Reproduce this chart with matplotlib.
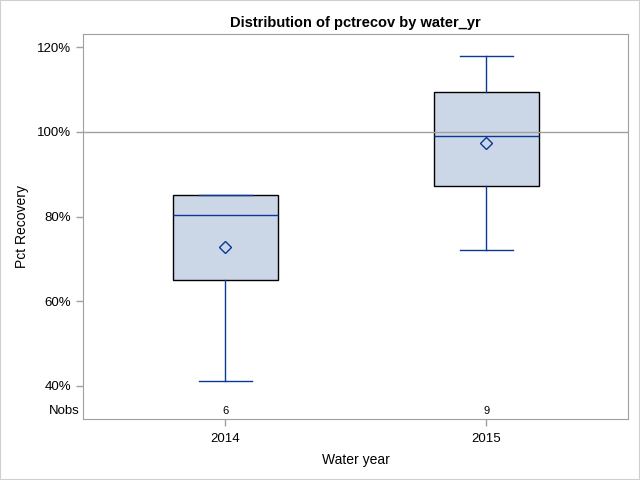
# -*- coding:utf-8 -*-
import matplotlib
matplotlib.use("Agg")
import matplotlib.pyplot as plt
from matplotlib.ticker import PercentFormatter
from matplotlib.patches import Rectangle

# box statistics (percent)
years = ['2014', '2015']
whislo = [41.1, 72.2]
q1 = [65.0, 87.2]
med = [80.3, 98.9]
q3 = [85.0, 109.4]
whishi = [85.2, 117.8]
means = [72.7, 97.4]
nobs = [6, 9]
yticks = [40, 60, 80, 100, 120]

plt.rcParams['font.family'] = ['Liberation Sans', 'DejaVu Sans']

blue = '#0A3A96'
fill = '#CBD6E6'
gray = '#A0A0A0'

fig = plt.figure(figsize=(6.4, 4.8), dpi=100)
ax = fig.add_axes([83.3/640, 61/480, 545/640, 385/480])

stats = []
for i in range(len(years)):
    stats.append({'label': years[i], 'whislo': whislo[i], 'q1': q1[i], 'med': med[i],
                  'q3': q3[i], 'whishi': whishi[i], 'mean': means[i], 'fliers': []})

ax.bxp(stats, positions=range(len(years)), widths=0.402, capwidths=0.205,
       showmeans=True, patch_artist=True, manage_ticks=False,
       boxprops=dict(facecolor=fill, edgecolor='black', linewidth=1.0),
       medianprops=dict(color=blue, linewidth=1.0),
       whiskerprops=dict(color=blue, linewidth=1.0),
       capprops=dict(color=blue, linewidth=1.0),
       meanprops=dict(marker='D', markerfacecolor='none', markeredgecolor=blue,
                      markersize=6.5, markeredgewidth=1.0))

ax.axhline(100, color=gray, linewidth=1, zorder=5)

ax.set_xlim(-0.544, 1.544)
ax.set_ylim(32.2, 123.1)
ax.set_xticks(range(len(years)))
ax.set_xticklabels(years)
ax.set_yticks(yticks)
ax.yaxis.set_major_formatter(PercentFormatter(xmax=100, decimals=0))

for i in range(len(years)):
    ax.text(i, 34.0, str(nobs[i]), ha='center', va='center', fontsize=8, color='black')
ax.text(-0.007, 34.2, 'Nobs', transform=ax.get_yaxis_transform(), ha='right',
        va='center', fontsize=9.5, color='black')

for s in ax.spines.values():
    s.set_color(gray)
ax.tick_params(colors=gray, labelcolor='black', labelsize=9.5, length=5, width=1)
ax.tick_params(axis='x', pad=5)

ax.set_title('Distribution of pctrecov by water_yr', fontsize=10.5, fontweight='bold', pad=5)
ax.set_xlabel('Water year', fontsize=10, labelpad=6)
ax.set_ylabel('Pct Recovery', fontsize=10, labelpad=6)

fig.patches.append(Rectangle((0, 0), 1, 1, transform=fig.transFigure, fill=False,
                             edgecolor='#D0D0D0', linewidth=1.5))

fig.savefig('out.png', dpi=100)
